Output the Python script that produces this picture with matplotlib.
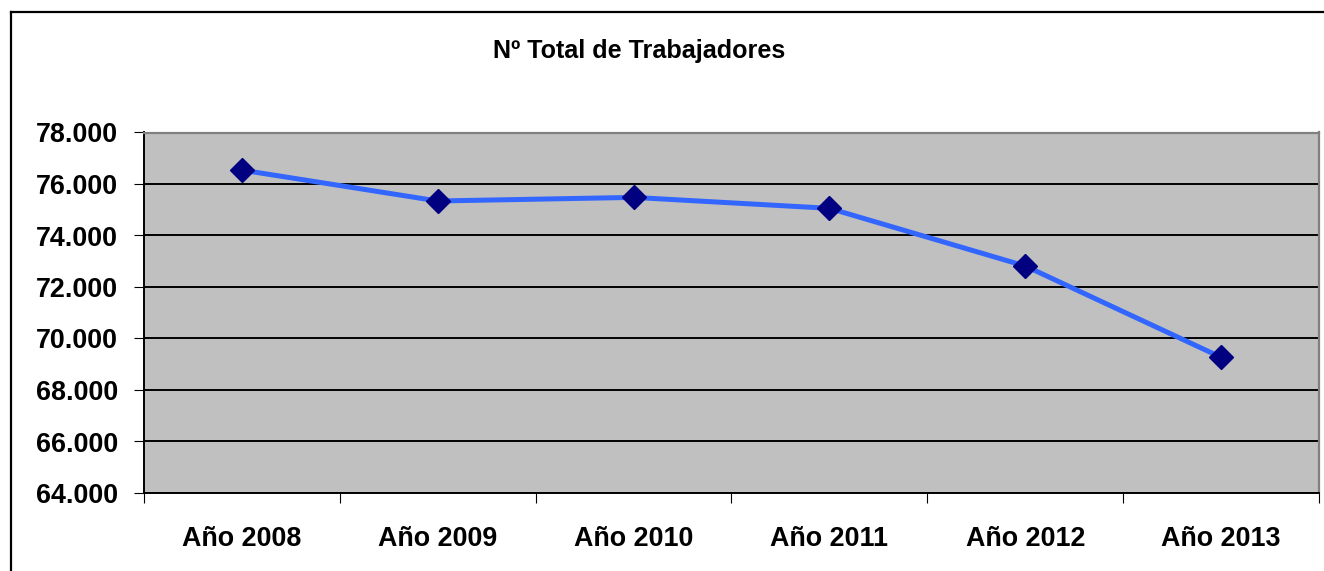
import numpy as np
import matplotlib
matplotlib.use('Agg')
import matplotlib.pyplot as plt
from matplotlib.lines import Line2D
from matplotlib.ticker import FuncFormatter

# data
years = ['Año 2008', 'Año 2009', 'Año 2010', 'Año 2011', 'Año 2012', 'Año 2013']
workers = [76540, 75340, 75480, 75055, 72815, 69270]
y_ticks = [64000, 66000, 68000, 70000, 72000, 74000, 76000, 78000]

plt.rcParams['font.family'] = ['Liberation Sans', 'DejaVu Sans']
plt.rcParams['font.weight'] = 'bold'

fig = plt.figure(figsize=(13.24, 5.71), dpi=100)
ax = fig.add_axes([144/1324, 78/571, 1175/1324, 360.5/571])
ax.set_facecolor('#C0C0C0')

x = np.arange(len(years))
ax.plot(x, workers, color='#3366FF', lw=3.6, zorder=3,
        marker='D', markersize=12.5, markerfacecolor='#000080',
        markeredgecolor='#000080')

ax.set_ylim(64000, 78000)
ax.set_xlim(-0.5, len(years) - 0.5)

ax.set_yticks(y_ticks)
ax.yaxis.set_major_formatter(FuncFormatter(lambda v, p: '{:,.0f}'.format(v).replace(',', '.')))
ax.tick_params(axis='y', length=7.2, width=0.8, pad=11.5, labelsize=19.4, direction='out')
ax.grid(axis='y', color='black', lw=1.4)
ax.set_axisbelow(True)

# category boundaries as major ticks, labels on minor ticks at centres
ax.set_xticks(np.arange(-0.5, len(years), 1.0))
ax.set_xticklabels([])
ax.set_xticks(x, minor=True)
ax.set_xticklabels(years, minor=True)
ax.tick_params(axis='x', which='major', length=7.2, width=0.8, direction='out')
ax.tick_params(axis='x', which='minor', length=0, pad=23.5, labelsize=19.4)

for s in ['left', 'bottom']:
    ax.spines[s].set_color('black')
    ax.spines[s].set_linewidth(1.4)
for s in ['top', 'right']:
    ax.spines[s].set_color('#808080')
    ax.spines[s].set_linewidth(1.6)

fig.text(639/1324, 1 - 51/571, 'Nº Total de Trabajadores', ha='center', va='center',
         fontsize=18.1, fontweight='bold')

# outer chart frame (left and top edges visible)
fig.add_artist(Line2D([11/1324, 11/1324], [0, 1 - 12/571], transform=fig.transFigure,
                      color='black', lw=1.6))
fig.add_artist(Line2D([11/1324, 1], [1 - 12/571, 1 - 12/571], transform=fig.transFigure,
                      color='black', lw=1.6))

fig.savefig('out.png', dpi=100)
